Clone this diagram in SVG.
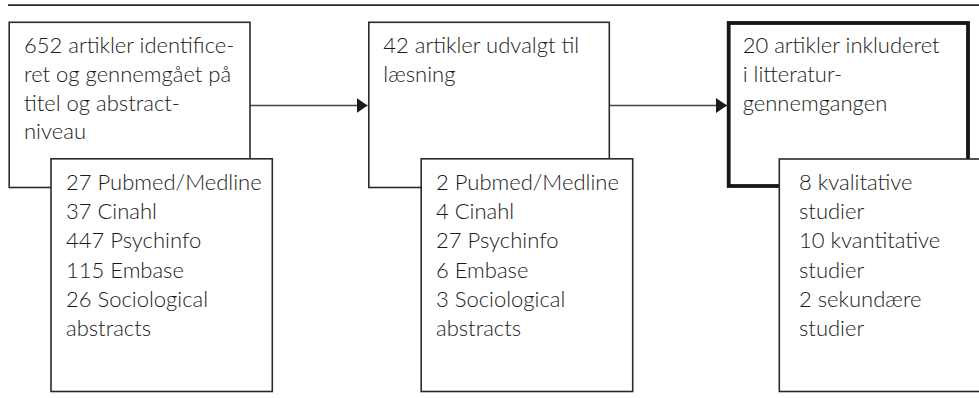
<svg xmlns="http://www.w3.org/2000/svg" width="979" height="398" viewBox="0 0 979 398">
<defs>
<style>
.box{fill:#fff;stroke:#2a2a2a;stroke-width:1.6}
.thick{fill:#fff;stroke:#161616;stroke-width:3.8}
.t{font-family:Lato,"Open Sans","Liberation Sans",sans-serif;font-size:22px;font-weight:300;fill:#1a1a1a}
.conn{stroke:#444;stroke-width:1.6;fill:none}
</style>
<marker id="ah" markerWidth="11" markerHeight="15" refX="11" refY="7.5" orient="auto" markerUnits="userSpaceOnUse">
<path d="M0,0 L11,7.5 L0,15 Z" fill="#1a1a1a"/>
</marker>
</defs>
<rect width="979" height="398" fill="#fff"/>
<line x1="8" y1="5.2" x2="979" y2="5.2" stroke="#2a2a2a" stroke-width="1.7"/>
<g id="connectors">
<line class="conn" x1="250" y1="105.5" x2="367.5" y2="105.5" marker-end="url(#ah)"/>
<line class="conn" x1="609.5" y1="105.5" x2="727" y2="105.5" marker-end="url(#ah)"/>
</g>
<g id="n1">
<rect class="box" x="9.2" y="22.3" width="240.8" height="165.2"/>
<text class="t"><tspan x="24" y="53.3">652 artikler identifice-</tspan><tspan x="24" y="82">ret og gennemgået på</tspan><tspan x="24" y="110.7">titel og abstract-</tspan><tspan x="24" y="139.3">niveau</tspan></text>
</g>
<g id="n1sub">
<rect class="box" x="51" y="158.8" width="221.3" height="232.7"/>
<text class="t"><tspan x="66" y="190">27 Pubmed/Medline</tspan><tspan x="66" y="219.2">37 Cinahl</tspan><tspan x="66" y="248.4">447 Psychinfo</tspan><tspan x="66" y="277.6">115 Embase</tspan><tspan x="66" y="306.8">26 Sociological</tspan><tspan x="66" y="336">abstracts</tspan></text>
</g>
<g id="n2">
<rect class="box" x="368.8" y="22.3" width="240.5" height="165.2"/>
<text class="t"><tspan x="383.3" y="53.3">42 artikler udvalgt til</tspan><tspan x="383.3" y="82">læsning</tspan></text>
</g>
<g id="n2sub">
<rect class="box" x="421.2" y="158.8" width="211.5" height="232.7"/>
<text class="t"><tspan x="436" y="190">2 Pubmed/Medline</tspan><tspan x="436" y="219.2">4 Cinahl</tspan><tspan x="436" y="248.4">27 Psychinfo</tspan><tspan x="436" y="277.6">6 Embase</tspan><tspan x="436" y="306.8">3 Sociological</tspan><tspan x="436" y="336">abstracts</tspan></text>
</g>
<g id="n3">
<rect class="thick" x="728.7" y="23" width="239.3" height="163"/>
<text class="t"><tspan x="742.7" y="53.3">20 artikler inkluderet</tspan><tspan x="742.7" y="82">i litteratur-</tspan><tspan x="742.7" y="110.7">gennemgangen</tspan></text>
</g>
<g id="n3sub">
<rect class="box" x="779.3" y="159" width="220" height="232.5"/>
<text class="t"><tspan x="799" y="190">8 kvalitative</tspan><tspan x="799" y="219.2">studier</tspan><tspan x="799" y="248.4">10 kvantitative</tspan><tspan x="799" y="277.6">studier</tspan><tspan x="799" y="306.8">2 sekundære</tspan><tspan x="799" y="336">studier</tspan></text>
</g>
</svg>
